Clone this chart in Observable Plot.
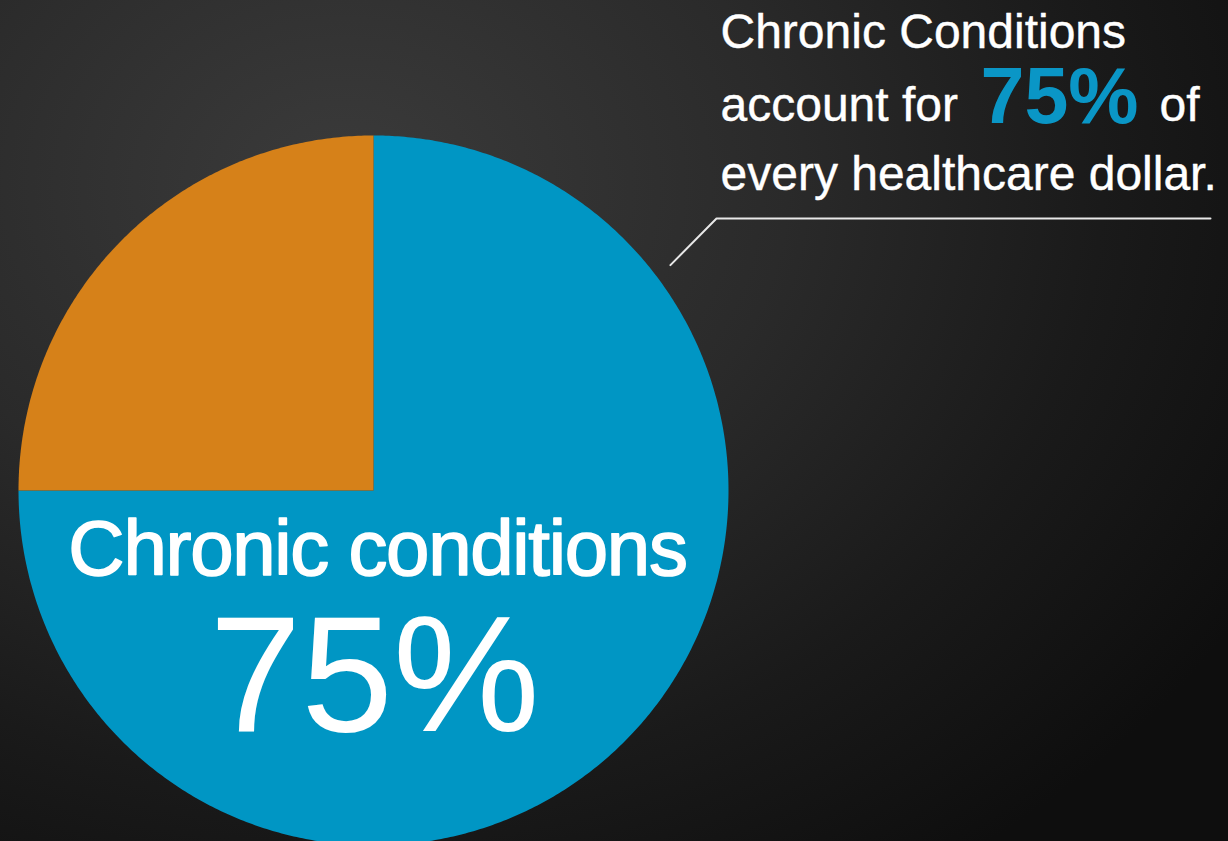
<!DOCTYPE html>
<html>
<head>
<meta charset="utf-8">
<script src="https://cdn.jsdelivr.net/npm/d3@7"></script>
<script src="https://cdn.jsdelivr.net/npm/@observablehq/plot@0.6"></script>
<style>
  html, body { margin: 0; padding: 0; }
  body {
    width: 1228px; height: 841px; overflow: hidden;
    background: radial-gradient(ellipse 95% 110% at 28% 22%, #3b3b3b 0%, #2a2a2a 38%, #1a1a1a 65%, #0e0e0e 90%);
  }
  #chart svg { display: block; }
  #chart g[font-size="78"] text { letter-spacing: -1.3px; }
</style>
</head>
<body>
<div id="chart"></div>
<script>
// ---- data ----
const categories = ["Chronic conditions", "Other"];
const shares = [75, 25];
const sliceColors = ["#0096c4", "#d68119"];
const centerLabel = "Chronic conditions";
const centerValue = "75%";
const noteLine1 = "Chronic Conditions";
const noteLine2a = "account for";
const noteLine2b = "75%";
const noteLine2c = "of";
const noteLine3 = "every healthcare dollar.";

// ---- geometry helpers (pie radius = 1 data unit) ----
const W = 1228, H = 841;
const R = 355, CX = 373, CY = 490;           // pixel placement of pie
const px = v => (v - CX) / R;                 // pixel -> data x
const py = v => (CY - v) / R;                 // pixel -> data y

const arcs = d3.pie().sort(null).startAngle(0).endAngle(2 * Math.PI)(shares);
const piePoints = [];
arcs.forEach((a, i) => {
  const name = categories[i];
  piePoints.push({name, x: 0, y: 0});
  const n = Math.max(2, Math.ceil((a.endAngle - a.startAngle) / (Math.PI / 360)));
  for (let k = 0; k <= n; k++) {
    const t = a.startAngle + (a.endAngle - a.startAngle) * k / n;
    piePoints.push({name, x: Math.sin(t), y: Math.cos(t)});
  }
  piePoints.push({name, x: 0, y: 0});
});

// leader line from the blue slice edge to the note
const leaderAngle = 52.8 * Math.PI / 180;
const leader = [
  {x: 1.05 * Math.sin(leaderAngle), y: 1.05 * Math.cos(leaderAngle)},
  {x: px(716), y: py(218)},
  {x: px(1210), y: py(218)}
];

const font = "'Liberation Sans', Arial, Helvetica, sans-serif";

const chart = Plot.plot({
  width: W,
  height: H,
  margin: 0,
  x: {domain: [px(0), px(W)], range: [0, W], axis: null},
  y: {domain: [py(H), py(0)], range: [H, 0], axis: null},
  color: {domain: categories, range: sliceColors},
  style: {background: "transparent", fontFamily: font, overflow: "visible"},
  marks: [
    Plot.line(piePoints, {x: "x", y: "y", z: "name", fill: "name", stroke: null, curve: "linear"}),
    Plot.text([centerLabel], {x: px(377), y: py(574), text: d => d, fill: "white", stroke: "white", strokeWidth: 1.6, fontSize: 78, textAnchor: "middle", lineAnchor: "bottom", fontFamily: font}),
    Plot.text([centerValue], {x: px(374), y: py(730), text: d => d, fill: "white", fontSize: 165, textAnchor: "middle", lineAnchor: "bottom", fontFamily: font}),
    Plot.line(leader, {x: "x", y: "y", stroke: "#e8e8e8", strokeWidth: 2}),
    Plot.text([noteLine1], {x: px(720), y: py(47), text: d => d, fill: "white", stroke: "white", strokeWidth: 0.4, fontSize: 48, textAnchor: "start", lineAnchor: "bottom", fontFamily: font}),
    Plot.text([noteLine2a], {x: px(720), y: py(120), text: d => d, fill: "white", stroke: "white", strokeWidth: 0.4, fontSize: 48, textAnchor: "start", lineAnchor: "bottom", fontFamily: font}),
    Plot.text([noteLine2b], {x: px(980), y: py(122), text: d => d, fill: "#0a96c6", fontSize: 79, fontWeight: "bold", textAnchor: "start", lineAnchor: "bottom", fontFamily: font}),
    Plot.text([noteLine2c], {x: px(1159), y: py(120), text: d => d, fill: "white", stroke: "white", strokeWidth: 0.4, fontSize: 48, textAnchor: "start", lineAnchor: "bottom", fontFamily: font}),
    Plot.text([noteLine3], {x: px(720), y: py(189), text: d => d, fill: "white", stroke: "white", strokeWidth: 0.4, fontSize: 48, textAnchor: "start", lineAnchor: "bottom", fontFamily: font})
  ]
});
document.getElementById("chart").appendChild(chart);
</script>
</body>
</html>
